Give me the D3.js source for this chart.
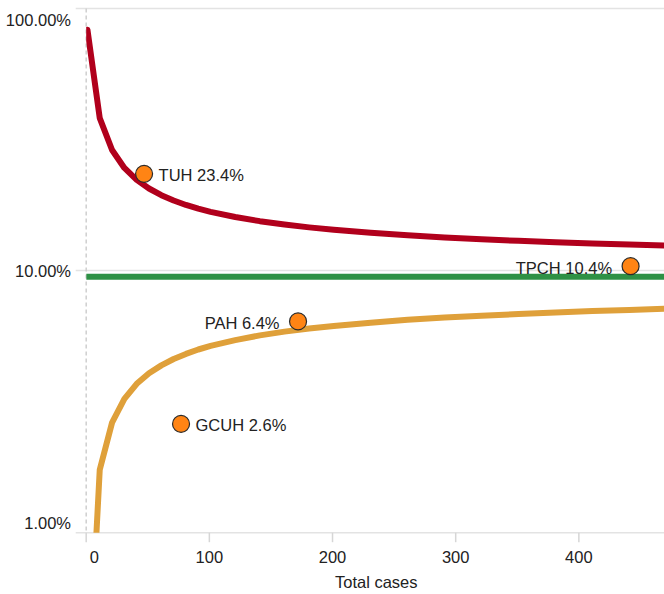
<!DOCTYPE html>
<html>
<head>
<meta charset="utf-8">
<script src="https://cdn.jsdelivr.net/npm/d3@7"></script>
<style>
  body { margin: 0; background: #fff; }
  svg { display: block; font-family: "Liberation Sans", Arial, sans-serif; }
</style>
</head>
<body>
<svg id="chart" width="664" height="594"></svg>
<script>
// ---- data ----
const hospitals  = ["TUH", "GCUH", "PAH", "TPCH"];
const totalCases = [47, 77, 172, 442];
const rates      = [0.234, 0.026, 0.064, 0.104];
const labelSide  = ["right", "right", "left", "left"];

const meanRate = 0.0947;

const limitN     = [1, 11, 21, 31, 41, 51, 61, 71, 81, 91, 101, 121, 141, 161, 181, 201, 231, 261, 291, 321, 351, 381, 411, 441, 471];
const upperLimit = [0.8304, 0.3818, 0.2885, 0.2464, 0.2219, 0.2057, 0.1939, 0.1851, 0.1780, 0.1723, 0.1676, 0.1601, 0.1544, 0.1499, 0.1462, 0.1431, 0.1394, 0.1364, 0.1338, 0.1317, 0.1299, 0.1283, 0.1269, 0.1257, 0.1245];
const lowerLimit = [0.0022, 0.0174, 0.0263, 0.0324, 0.0370, 0.0406, 0.0435, 0.0460, 0.0481, 0.0500, 0.0516, 0.0543, 0.0566, 0.0585, 0.0601, 0.0615, 0.0633, 0.0649, 0.0662, 0.0673, 0.0683, 0.0692, 0.0701, 0.0708, 0.0715];

const xTicks = [0, 100, 200, 300, 400];
const yTicks = [1, 0.1, 0.01];
const xTitle = "Total cases";

// ---- layout ----
(function () {
const svg = d3.select("#chart");
const pL = 86.2, pR = 666.3, pT = 8.5, pB = 532.7;
const x = d3.scaleLinear().domain([0, 471]).range([pL, pR]);
const y = d3.scaleLog().domain([0.01, 1]).range([pB, pT]);

const gridColor = "#e3e3e3";
const textColor = "#222";
const fs = 16.5;

// gridlines + y ticks
svg.append("g").selectAll("line").data(yTicks).join("line")
  .attr("x1", pL - 10.5).attr("x2", 664)
  .attr("y1", d => y(d)).attr("y2", d => y(d))
  .attr("stroke", gridColor).attr("stroke-width", 1.5);

// x ticks
svg.append("g").selectAll("line").data(xTicks).join("line")
  .attr("x1", d => x(d)).attr("x2", d => x(d))
  .attr("y1", pB).attr("y2", pB + 9.5)
  .attr("stroke", "#d6d6d6").attr("stroke-width", 1.5);

// dashed zero line
svg.append("line")
  .attr("x1", x(0)).attr("x2", x(0)).attr("y1", pT).attr("y2", pB)
  .attr("stroke", "#cfcfcf").attr("stroke-width", 1.5)
  .attr("stroke-dasharray", "4,3");

// y labels (flushed at ends)
const fmtPct = d3.format(".2%");
svg.append("g").selectAll("text").data(yTicks).join("text")
  .attr("x", 71)
  .attr("y", (d, i) => i === 0 ? 26 : (i === yTicks.length - 1 ? 529 : y(d) + 6))
  .attr("text-anchor", "end")
  .attr("font-size", fs).attr("fill", textColor)
  .text(d => fmtPct(d));

// x labels
svg.append("g").selectAll("text").data(xTicks).join("text")
  .attr("x", (d, i) => i === 0 ? x(d) + 3.5 : x(d))
  .attr("y", 562.5)
  .attr("text-anchor", (d, i) => i === 0 ? "start" : "middle")
  .attr("font-size", fs).attr("fill", textColor)
  .text(d => d);

svg.append("text")
  .attr("x", (pL + pR) / 2).attr("y", 587.5)
  .attr("text-anchor", "middle")
  .attr("font-size", fs).attr("fill", textColor)
  .text(xTitle);

// clip
svg.append("defs").append("clipPath").attr("id", "plotclip")
  .append("rect").attr("x", pL).attr("y", pT)
  .attr("width", pR - pL).attr("height", pB - pT);

const plot = svg.append("g").attr("clip-path", "url(#plotclip)");

// mean line
plot.append("line")
  .attr("x1", x(0)).attr("x2", x(471))
  .attr("y1", y(meanRate)).attr("y2", y(meanRate))
  .attr("stroke", "#2e9145").attr("stroke-width", 6);

const line = d3.line().x(d => x(d[0])).y(d => y(d[1]));

plot.append("path")
  .datum(limitN.map((n, i) => [n, upperLimit[i]]))
  .attr("d", line).attr("fill", "none")
  .attr("stroke", "#b1001c").attr("stroke-width", 6)
  .attr("stroke-linejoin", "round").attr("stroke-linecap", "round");

plot.append("path")
  .datum(limitN.map((n, i) => [n, lowerLimit[i]]))
  .attr("d", line).attr("fill", "none")
  .attr("stroke", "#dfa03a").attr("stroke-width", 6)
  .attr("stroke-linejoin", "round").attr("stroke-linecap", "round");

// points
const pts = hospitals.map((h, i) => ({h, n: totalCases[i], r: rates[i], side: labelSide[i]}));
svg.append("g").selectAll("circle").data(pts).join("circle")
  .attr("cx", d => x(d.n)).attr("cy", d => y(d.r)).attr("r", 8.5)
  .attr("fill", "#ff8414").attr("stroke", "#2b2b2b").attr("stroke-width", 1.2);

const fmt1 = d3.format(".1%");
svg.append("g").selectAll("text").data(pts).join("text")
  .attr("x", d => d.side === "right" ? x(d.n) + 14.5 : x(d.n) - 18.5)
  .attr("y", d => y(d.r) + 7.5)
  .attr("text-anchor", d => d.side === "right" ? "start" : "end")
  .attr("font-size", fs).attr("fill", textColor)
  .text(d => d.h + " " + fmt1(d.r));
})();
</script>
</body>
</html>
